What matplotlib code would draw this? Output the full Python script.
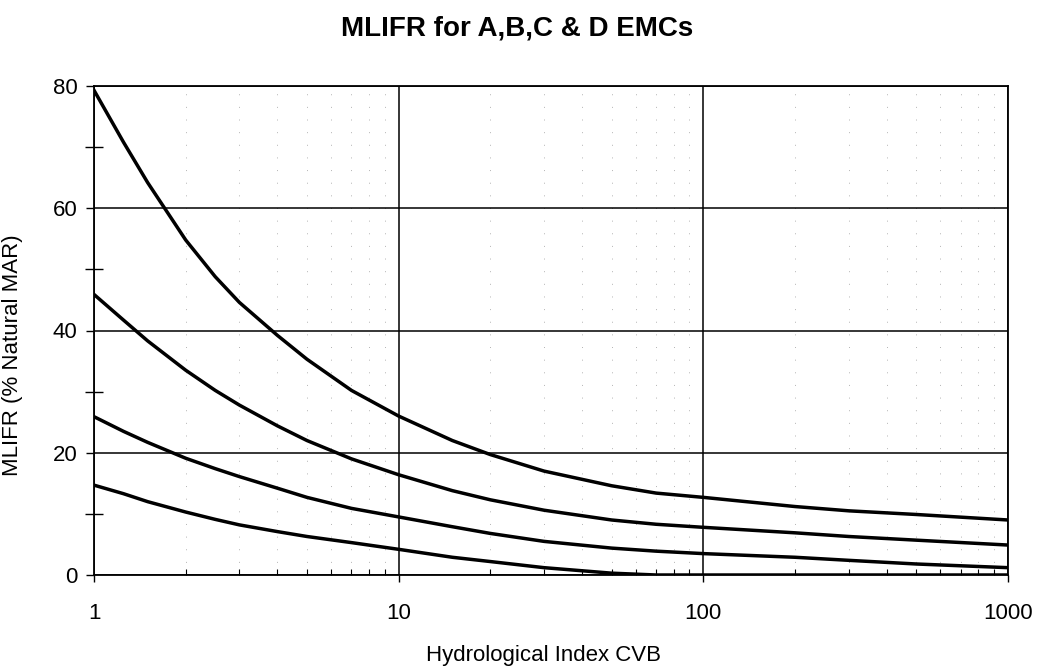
"""
MLIFR curves for the A, B, C and D ecological management classes,
plotted against the hydrological index CVB (log scale).
"""

import matplotlib
matplotlib.use("Agg")
import matplotlib.pyplot as plt
from matplotlib.ticker import FixedLocator, LogLocator, NullFormatter


# ---------------------------------------------------------------------------
# Data
# ---------------------------------------------------------------------------

CVB   = [1, 1.25, 1.5, 2, 2.5, 3, 4, 5, 7, 10, 15, 20, 30, 50, 70, 100,
         200, 300, 500, 1000]
EMC_A = [79.3, 70.8, 64.2, 54.8, 48.8, 44.6, 39.2, 35.3, 30.2, 26.0, 22.0,
         19.7, 17.0, 14.6, 13.4, 12.7, 11.2, 10.5, 9.9, 9.0]
EMC_B = [45.9, 41.7, 38.3, 33.5, 30.2, 27.8, 24.4, 22.0, 19.0, 16.4, 13.8,
         12.3, 10.6, 9.0, 8.3, 7.8, 6.9, 6.3, 5.7, 4.9]
EMC_C = [25.9, 23.5, 21.7, 19.1, 17.4, 16.1, 14.2, 12.7, 10.9, 9.5, 7.9,
         6.8, 5.5, 4.4, 3.9, 3.5, 2.9, 2.4, 1.8, 1.2]
EMC_D = [14.7, 13.3, 12.0, 10.3, 9.1, 8.2, 7.1, 6.3, 5.3, 4.2, 2.9, 2.2,
         1.2, 0.3, 0.0, 0.0, 0.0, 0.0, 0.0, 0.0]

Y_MAJOR = [0, 20, 40, 60, 80]
Y_MINOR = [10, 30, 50, 70]
X_MAJOR = [1, 10, 100, 1000]
X_LABELS = ["1", "10", "100", "1000"]

TITLE  = "MLIFR for A,B,C & D EMCs"
XLABEL = "Hydrological Index CVB"
YLABEL = "MLIFR (% Natural MAR)"


# ---------------------------------------------------------------------------
# Figure
# ---------------------------------------------------------------------------

plt.rcParams["font.family"] = ["Liberation Sans", "DejaVu Sans"]

W, H = 1038, 668
fig = plt.figure(figsize=(W / 100, H / 100), dpi=100)
left, right, top, bottom = 94, 1008, 86, 575
ax = fig.add_axes([left / W, 1 - bottom / H, (right - left) / W, (bottom - top) / H])

for series in (EMC_A, EMC_B, EMC_C, EMC_D):
    ax.plot(CVB, series, color="black", lw=2.5, solid_joinstyle="round",
            zorder=3)

ax.set_xscale("log")
ax.set_xlim(1, 1000)
ax.set_ylim(0, 80)

ax.set_yticks(Y_MAJOR)
ax.yaxis.set_minor_locator(FixedLocator(Y_MINOR))
ax.xaxis.set_major_locator(FixedLocator(X_MAJOR))
ax.set_xticklabels(X_LABELS)
ax.xaxis.set_minor_locator(LogLocator(base=10, subs=range(2, 10)))
ax.xaxis.set_minor_formatter(NullFormatter())

# solid major grid, faint dotted minor verticals (mostly lost in the scan)
ax.grid(which="major", color="black", lw=1.1)
ax.grid(which="minor", axis="x", color="0.7", lw=0.7, linestyle=(0, (1, 12)))

for side in ax.spines.values():
    side.set_linewidth(1.3)
    side.set_color("black")

ax.tick_params(axis="y", which="major", direction="out", length=6, width=1.0,
               labelsize=16, pad=6)
ax.tick_params(axis="y", which="minor", direction="inout", length=13, width=1.0)
ax.tick_params(axis="x", which="major", direction="out", length=5, width=1.0,
               labelsize=16, pad=15)
ax.tick_params(axis="x", which="minor", direction="in", length=4, width=0.8)

ax.set_xlabel(XLABEL, fontsize=16)
ax.set_ylabel(YLABEL, fontsize=16)
ax.xaxis.set_label_coords(0.492, -0.143)
ax.yaxis.set_label_coords(-0.078, 0.45)

fig.text(517 / W, 1 - 28 / H, TITLE, fontsize=20, fontweight="bold",
         ha="center", va="center")

fig.savefig("out.png", dpi=100)
